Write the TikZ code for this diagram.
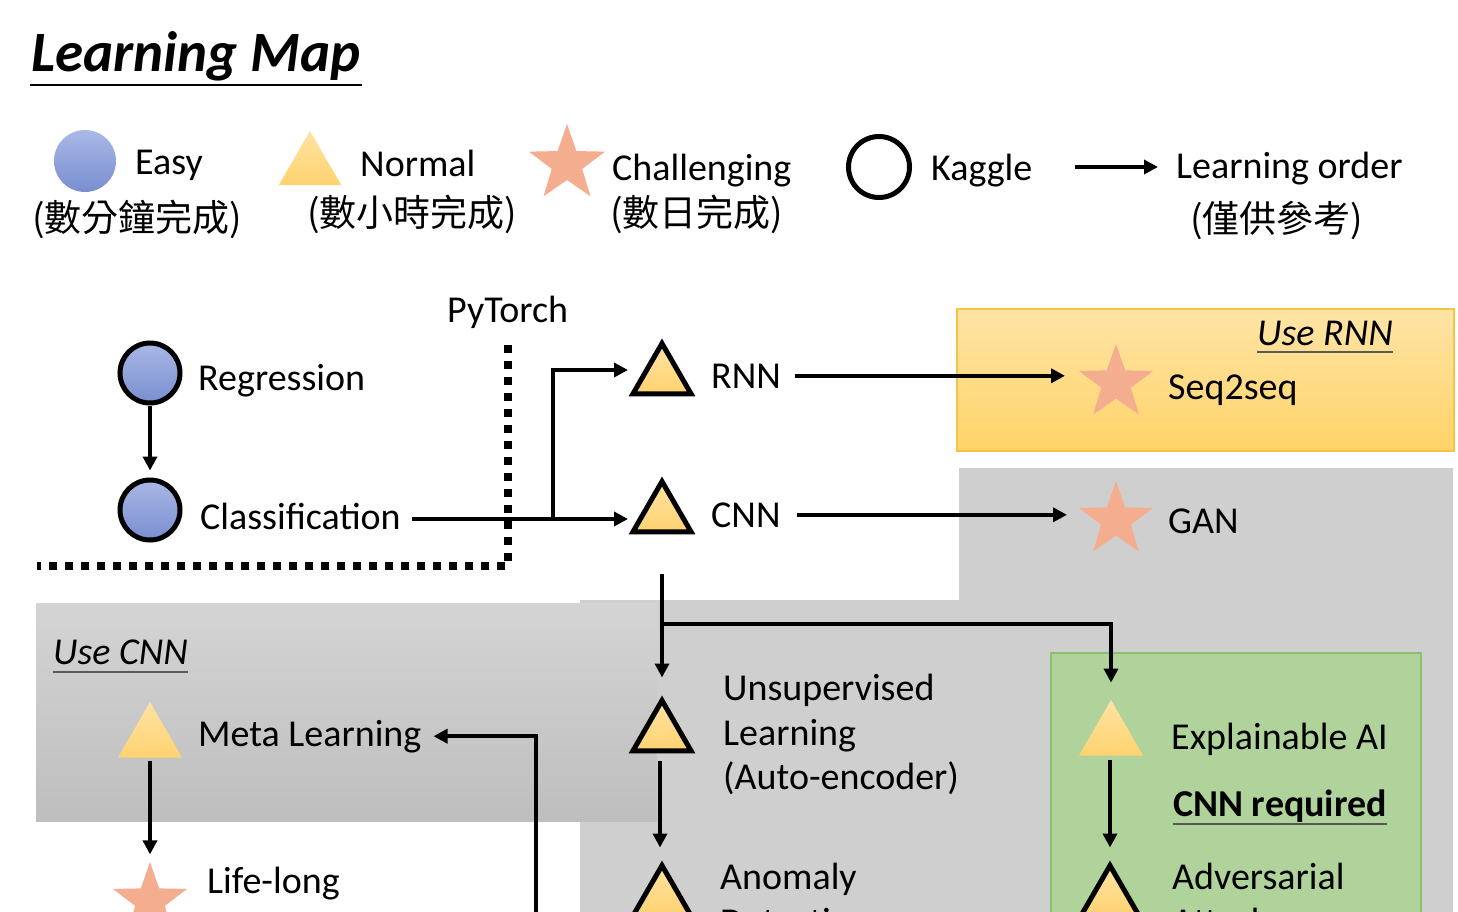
\documentclass[tikz,border=0pt]{standalone}
\usepackage{fontspec}
\setmainfont{Carlito}
\newfontfamily\cjk{Noto Sans CJK TC}
\usetikzlibrary{shapes.geometric,arrows.meta,calc}

\definecolor{blueT}{HTML}{A9B8E6}
\definecolor{blueB}{HTML}{7A8ED0}
\definecolor{yelT}{HTML}{FFE3A3}
\definecolor{yelB}{HTML}{FFD270}
\definecolor{starC}{HTML}{F4AE8F}
\definecolor{rnnT}{HTML}{FFE4A6}
\definecolor{rnnB}{HTML}{FFD368}
\definecolor{rnnLine}{HTML}{F5C444}
\definecolor{grayC}{HTML}{CFCFCF}
\definecolor{cnnT}{HTML}{D4D4D4}
\definecolor{cnnB}{HTML}{BEBEBE}
\definecolor{greenC}{HTML}{AFD39B}
\definecolor{greenLine}{HTML}{8DBE6C}

\begin{document}
\begin{tikzpicture}[x=1pt,y=-1pt,
  txt/.style={inner sep=0pt, anchor=base west, font=\fontsize{38}{45}\selectfont},
  cjktxt/.style={inner sep=0pt, anchor=base west, font=\fontsize{37}{44}\selectfont\cjk},
  conn/.style={line width=4pt, -{Triangle[length=14pt,width=14pt]}},
  uline/.style={line width=2pt, black!65},
  easy/.style={circle, minimum size=60pt, inner sep=0pt, top color=blueT, bottom color=blueB},
  easyk/.style={easy, draw=black, line width=5pt},
  normal/.style={regular polygon, regular polygon sides=3, minimum size=74pt, inner sep=0pt,
                 top color=yelT, bottom color=yelB},
  normalk/.style={normal, minimum size=67pt, draw=black, line width=5pt},
  hard/.style={star, star points=5, star point ratio=2.5, minimum size=78pt, inner sep=0pt, fill=starC},
  kaggle/.style={circle, minimum size=61pt, inner sep=0pt, draw=black, line width=5pt},
  pydot/.style={line width=8pt, dash pattern=on 8pt off 8pt},
]
\useasboundingbox (0,0) rectangle (1458,911);
\clip (0,0) rectangle (1458,911);

% ---------- title ----------
\node[inner sep=0pt, anchor=base west, font=\fontsize{57}{64}\selectfont\bfseries\itshape]
  (title) at (31,71) {Learning Map};
\draw[line width=2pt] ($(title.base west)+(-1,14)$) -- ($(title.base east)+(1,14)$);

% ---------- legend ----------
\node[easy, minimum size=62pt] (lgEasy) at (85,161) {};
\node[txt] (lgEasyT) at (135,174) {Easy};
\node[cjktxt] (lgEasyC) at (32,231) {(數分鐘完成)};

\node[normal, minimum size=72pt] (lgNorm) at (310,167) {};
\node[txt] (lgNormT) at (360,176) {Normal};
\node[cjktxt] (lgNormC) at (307,226) {(數小時完成)};

\node[hard, minimum size=80pt] (lgHard) at (567,164) {};
\node[txt] (lgHardT) at (612,180) {Challenging};
\node[cjktxt] (lgHardC) at (610,226) {(數日完成)};

\node[kaggle] (lgKag) at (879,167) {};
\node[txt] (lgKagT) at (931,180) {Kaggle};

\node[txt] (lgOrdT) at (1176,178) {Learning order};
\node[cjktxt] (lgOrdC) at (1190,232) {(僅供參考)};
\coordinate (lgArrow) at (1075,167);
\draw[conn] (lgArrow) -- ($(lgArrow -| lgOrdT.west)+(-18,0)$);

% ---------- background panels ----------
\path[top color=rnnT, bottom color=rnnB] (957,309) rectangle (1454,451);
\draw[rnnLine, line width=1.2pt] (957,309) rectangle (1454,451);
\fill[grayC] (959,468) -- (1453,468) -- (1453,940) -- (580,940) -- (580,600) -- (959,600) -- cycle;
\path[top color=cnnT, bottom color=cnnB] (36,603) rectangle (657,821);
\fill[greenC] (1051,653) rectangle (1421,940);
\draw[greenLine, line width=1.2pt] (1051,653) rectangle (1421,940);

% ---------- PyTorch boundary ----------
\node[txt] (pyt) at (447,322) {PyTorch};
\draw[pydot] (508,345) -- (508,566) -- (37,566);

% ---------- nodes ----------
\node[easyk] (reg) at (150,373) {};
\node[txt] (regT) at (198,390) {Regression};
\node[easyk] (cls) at (150,510) {};
\node[txt] (clsT) at (200,529) {Classification};

\node[normalk] (rnn) at (662,377) {};
\node[txt] (rnnT) at (711,388) {RNN};
\node[normalk] (cnn) at (662,515) {};
\node[txt] (cnnT) at (711,527) {CNN};

\node[hard] (seq) at (1116,383) {};
\node[txt] (seqT) at (1168,399) {Seq2seq};
\node[txt, font=\fontsize{38}{45}\selectfont\itshape] (useRnn) at (1257,345) {Use RNN};
\draw[uline] ($(useRnn.base west)+(0,7)$) -- ($(useRnn.base east)+(0,7)$);

\node[hard] (gan) at (1116,520) {};
\node[txt] (ganT) at (1168,533) {GAN};

\node[txt, font=\fontsize{38}{45}\selectfont\itshape] (useCnn) at (53,664) {Use CNN};
\draw[uline] ($(useCnn.base west)+(0,8)$) -- ($(useCnn.base east)+(0,8)$);
\node[normal] (meta) at (150,739) {};
\node[txt] (metaT) at (198,746) {Meta Learning};
\node[hard] (life) at (150,901) {};
\node[txt] (lifeT) at (207,893) {Life-long};

\node[normalk] (uns) at (662,734) {};
\node[txt] (unsT1) at (723,700) {Unsupervised};
\node[txt] (unsT2) at (723,745) {Learning};
\node[txt] (unsT3) at (723,789) {(Auto-encoder)};
\node[normalk] (ano) at (662,899) {};
\node[txt] (anoT1) at (720,889) {Anomaly};
\node[txt] (anoT2) at (720,934) {Detection};

\node[normal] (xai) at (1111,737) {};
\node[txt] (xaiT) at (1171,749) {Explainable AI};
\node[txt, font=\fontsize{38}{45}\selectfont\bfseries] (req) at (1173,816) {CNN required};
\draw[uline] ($(req.base west)+(0,8)$) -- ($(req.base east)+(0,8)$);
\node[normalk] (adv) at (1110,899) {};
\node[txt] (advT1) at (1172,889) {Adversarial};
\node[txt] (advT2) at (1172,934) {Attack};

% ---------- connectors ----------
\draw[conn] (reg.south) -- ($(cls.north)+(0,-7)$);
\coordinate (cnnIn) at ($(cnn.center)+(-34,4)$);
\draw[conn] ($(clsT.east |- cnnIn)+(11,0)$) -- (cnnIn);
\coordinate (fork) at ($(cnnIn)+(-75,0)$);
\draw[conn] (fork) |- ($(rnn.center)+(-34,-7)$);

\draw[conn] ($(rnnT.east)+(14,0)$) -- ($(rnnT.east -| seq.center)+(-51,0)$);
\draw[conn] ($(cnnT.east)+(16,0)$) -- ($(cnnT.east -| gan.center)+(-49,0)$);

\draw[conn] ($(cnn.south)+(0,40)$) -- ($(uns.north)+(0,-18)$);
\draw[conn] ($(cnn.south)+(0,90)$) -| ($(xai.north)+(0,-17)$);
\draw[conn] ($(uns.south)+(-2,8)$) -- ($(ano.north)+(-2,-13)$);
\draw[conn] ($(xai.south)+(-1,4)$) -- ($(adv.north)+(0,-13)$);
\draw[conn] ($(meta.south)+(0,3)$) -- ($(life.north)+(0,-7)$);

\coordinate (metaSrc) at (536,940);
\draw[conn] (metaSrc) |- ($(metaT.east)+(12,0)$);
\end{tikzpicture}
\end{document}
